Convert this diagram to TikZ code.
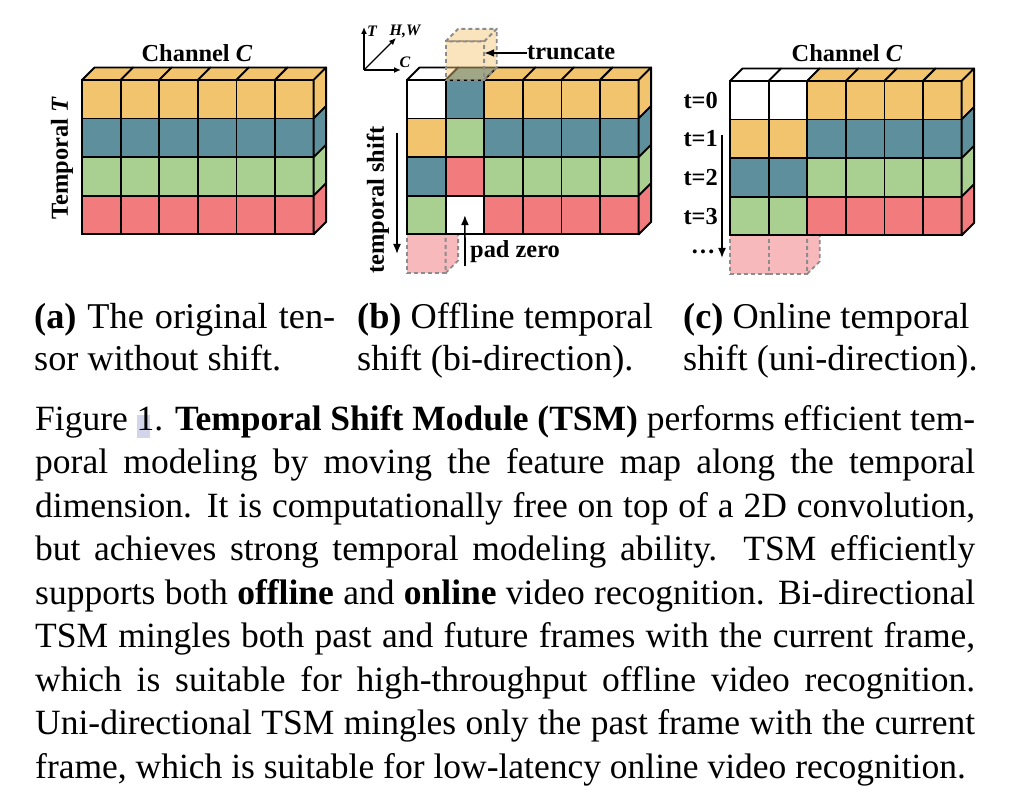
\documentclass[tikz,border=0pt]{standalone}
\usepackage{fontspec}
\setmainfont{Liberation Serif}
\usetikzlibrary{positioning,arrows.meta}
\pgfdeclarelayer{background}
\pgfsetlayers{background,main}
\definecolor{tsmorange}{HTML}{F2C46E}
\definecolor{tsmteal}{HTML}{5D909C}
\definecolor{tsmgreen}{HTML}{A9CF91}
\definecolor{tsmred}{HTML}{F27B7E}
\definecolor{tsmpink}{HTML}{F8B9BC}
\definecolor{tsmgray}{HTML}{8C8C8C}
\definecolor{linkhl}{HTML}{D3D6EB}
\tikzstyle{cell}=[draw, line width=1.8pt, minimum size=38.6pt, inner sep=0pt, outer sep=0pt]
\tikzstyle{face}=[draw, line width=1.8pt, line join=round]
\tikzstyle{ghostcell}=[cell, draw=tsmgray, dash pattern=on 4pt off 3pt]
\tikzstyle{ghostface}=[face, draw=tsmgray, dash pattern=on 4pt off 3pt]
\tikzstyle{lbl}=[font=\fontsize{24.4}{26}\selectfont\bfseries, inner sep=0pt]
\tikzstyle{axlbl}=[font=\fontsize{16}{18}\selectfont\bfseries\itshape, inner sep=0pt]
\tikzstyle{captext}=[font=\fontsize{35.5}{43.5}\selectfont, inner sep=0pt, anchor=base west]
\tikzstyle{subcap}=[captext, font=\fontsize{36.3}{42}\selectfont]
\tikzset{
    arr/.style={-{Latex[length=10pt,width=8pt]}, line width=1.6pt},
    axarr/.style={-{Latex[length=7pt,width=6pt]}, line width=1.3pt}}
\newcommand{\topface}[3][face]{\draw[#1, fill=#3] (#2.north west) -- ++(12.5,-12.5) -- ++(38.6,0) -- (#2.north east) -- cycle;}
\newcommand{\sideface}[3][face]{\draw[#1, fill=#3] (#2.north east) -- ++(12.5,-12.5) -- ++(0,38.6) -- (#2.south east) -- cycle;}
\newcommand{\capline}[2]{\path (35,{386.5+43.5*#1}) node[captext] (cap#1) {\makebox[940pt][s]{#2}};}

\begin{document}
\begin{tikzpicture}[x=1pt, y=-1pt]
\useasboundingbox (0,0) rectangle (1012,810);

% (a) original tensor
\foreach \r/\c in {0/tsmorange,1/tsmteal,2/tsmgreen,3/tsmred}
  \foreach \k in {0,...,5}
    \node[cell, fill=\c] (a\r\k) at ({101.3+38.6*\k},{99.3+38.6*\r}) {};
\foreach \k in {0,...,5} \topface{a0\k}{tsmorange};
\foreach \r/\c in {0/tsmorange,1/tsmteal,2/tsmgreen,3/tsmred} \sideface{a\r5}{\c};
\node[lbl] (chana) at (197,53) {Channel \textit{C}};
\node[lbl, rotate=90] (tempa) at (62,158) {Temporal \textit{T}};

% (b) offline shift
\foreach \r/\row in {0/{white,tsmteal,tsmorange,tsmorange,tsmorange,tsmorange},
                     1/{tsmorange,tsmgreen,tsmteal,tsmteal,tsmteal,tsmteal},
                     2/{tsmteal,tsmred,tsmgreen,tsmgreen,tsmgreen,tsmgreen},
                     3/{tsmgreen,white,tsmred,tsmred,tsmred,tsmred}}
  \foreach \c [count=\k from 0] in \row
    \node[cell, fill=\c] (b\r\k) at ({426.3+38.6*\k},{99.3+38.6*\r}) {};
\foreach \k/\c in {0/white,1/tsmteal,2/tsmorange,3/tsmorange,4/tsmorange,5/tsmorange} \topface{b0\k}{\c};
\foreach \r/\c in {0/tsmorange,1/tsmteal,2/tsmgreen,3/tsmred} \sideface{b\r5}{\c};
\begin{pgfonlayer}{background}
\node[ghostcell, fill=tsmpink, below=0pt of b30] (padb) {};
\sideface[ghostface]{padb}{tsmpink}
\end{pgfonlayer}
\node[ghostcell, fill=tsmorange, fill opacity=0.45, above=0pt of b01] (trunc) {};
\topface[ghostface, fill opacity=0.45]{trunc}{tsmorange}
\sideface[ghostface, fill opacity=0.45]{trunc}{tsmorange}
\node[lbl, anchor=west] (truncate) at (527,53) {truncate};
\draw[arr] (truncate.west) -- (truncate.west -| trunc.east);
\node[lbl, anchor=west] (padzero) at (470,252) {pad zero};
\coordinate (padfoot) at (465,266);
\draw[arr] (padfoot) -- (b31.center);
\node[lbl, rotate=90] (tshift) at (378,200) {temporal shift};
\coordinate (tsbtop) at (397,133);
\coordinate (tsbbot) at (397,254);
\draw[arr] (tsbtop) -- (tsbbot);
% axes
\coordinate (axo) at (364,70);
\coordinate (axt) at (364,27);
\coordinate (axh) at (396,38);
\coordinate (axc) at (401,70);
\draw[axarr] (axo) -- (axt);
\draw[axarr] (axo) -- (axh);
\draw[axarr] (axo) -- (axc);
\node[axlbl] (axtl) at (372,31) {T};
\node[axlbl] (axhl) at (405,32) {H,W};
\node[axlbl] (axcl) at (405,62) {C};

% (c) online shift
\foreach \r/\row in {0/{white,white,tsmorange,tsmorange,tsmorange,tsmorange},
                     1/{tsmorange,tsmorange,tsmteal,tsmteal,tsmteal,tsmteal},
                     2/{tsmteal,tsmteal,tsmgreen,tsmgreen,tsmgreen,tsmgreen},
                     3/{tsmgreen,tsmgreen,tsmred,tsmred,tsmred,tsmred}}
  \foreach \c [count=\k from 0] in \row
    \node[cell, fill=\c] (c\r\k) at ({749.3+38.6*\k},{100.3+38.6*\r}) {};
\foreach \k/\c in {0/white,1/white,2/tsmorange,3/tsmorange,4/tsmorange,5/tsmorange} \topface{c0\k}{\c};
\foreach \r/\c in {0/tsmorange,1/tsmteal,2/tsmgreen,3/tsmred} \sideface{c\r5}{\c};
\begin{pgfonlayer}{background}
\node[ghostcell, fill=tsmpink, below=0pt of c30] (padc0) {};
\node[ghostcell, fill=tsmpink, below=0pt of c31] (padc1) {};
\sideface[ghostface]{padc1}{tsmpink}
\end{pgfonlayer}
\node[lbl] (chanc) at (847,53) {Channel \textit{C}};
\foreach \r in {0,...,3}
  \node[lbl, left=12pt of c\r0] (t\r) {t=\r};
\node[lbl] (tdots) at (703,252) {\dots};
\coordinate (tsctop) at (722,135);
\coordinate (tscbot) at (722,258);
\draw[arr] (tsctop) -- (tscbot);

% sub captions
\node[subcap] (sca1) at (34,329) {\makebox[301pt][s]{\textbf{(a)} The original ten-}};
\node[subcap] (sca2) at (34,370) {sor without shift.};
\node[subcap] (scb1) at (357,329) {\textbf{(b)} Offline temporal};
\node[subcap] (scb2) at (357,370) {shift (bi-direction).};
\node[subcap] (scc1) at (683,329) {\textbf{(c)} Online temporal};
\node[subcap] (scc2) at (683,370) {shift (uni-direction).};

% main caption
\fill[linkhl] (137,415) rectangle (150,438);
\capline{1}{Figure 1. \textbf{Temporal Shift Module (TSM)} performs efficient tem-}
\capline{2}{poral modeling by moving the feature map along the temporal}
\capline{3}{dimension. It is computationally free on top of a 2D convolution,}
\capline{4}{but achieves strong temporal modeling ability. TSM efficiently}
\capline{5}{supports both \textbf{offline} and \textbf{online} video recognition. Bi-directional}
\capline{6}{TSM mingles both past and future frames with the current frame,}
\capline{7}{which is suitable for high-throughput offline video recognition.}
\capline{8}{Uni-directional TSM mingles only the past frame with the current}
\node[captext] (cap9) at (35,778) {frame, which is suitable for low-latency online video recognition.};
\end{tikzpicture}
\end{document}
